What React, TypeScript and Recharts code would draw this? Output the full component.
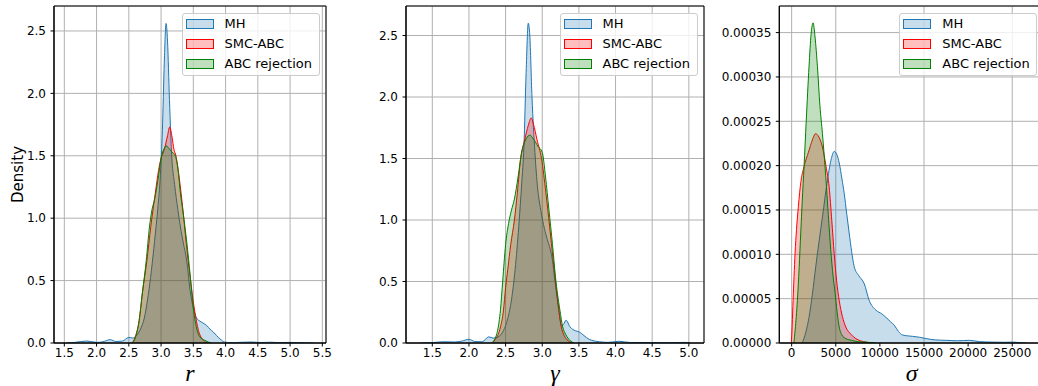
import React from 'react'
import { ComposedChart, Area, XAxis, YAxis, CartesianGrid, ReferenceArea, Legend } from 'recharts'

type Pt = [number, number]

const seriesNames = ['MH', 'SMC-ABC', 'ABC rejection']
const seriesColors = ['#1f77b4', '#ff0000', '#008000']
const seriesFills = ['rgba(31,119,180,0.25)', 'rgba(255,0,0,0.25)', 'rgba(0,128,0,0.25)']

// r panel
const rTicks = [1.5, 2, 2.5, 3, 3.5, 4, 4.5, 5, 5.5]
const rDensityTicks = [0, 0.5, 1, 1.5, 2, 2.5]
const mhR: Pt[] = [
  [1.53, 0], [1.65, 0.004], [1.85, 0.016], [2.0, 0.005], [2.1, 0.01], [2.21, 0.027], [2.3, 0.012],
  [2.4, 0.015], [2.5, 0.045], [2.56, 0.04], [2.62, 0.06], [2.68, 0.11], [2.74, 0.2], [2.8, 0.38],
  [2.85, 0.58], [2.9, 0.82], [2.95, 1.08], [2.99, 1.35], [3.02, 1.7], [3.05, 2.25], [3.077, 2.56],
  [3.1, 2.42], [3.13, 1.95], [3.165, 1.5], [3.21, 1.27], [3.26, 1.07], [3.3, 0.93], [3.346, 0.8],
  [3.4, 0.65], [3.45, 0.42], [3.5, 0.28], [3.55, 0.2], [3.6, 0.176], [3.65, 0.16], [3.708, 0.14],
  [3.76, 0.11], [3.81, 0.088], [3.86, 0.06], [3.914, 0.033], [3.99, 0.007], [4.1, 0.003],
  [4.25, 0.006], [4.4, 0.008], [4.55, 0.004], [4.7, 0.006], [4.85, 0.003], [5.0, 0.005],
  [5.15, 0.002], [5.366, 0],
]
const smcR: Pt[] = [
  [2.55, 0], [2.6, 0.05], [2.66, 0.18], [2.71, 0.4], [2.78, 0.66], [2.84, 0.93], [2.91, 1.2],
  [2.96, 1.38], [3.0, 1.48], [3.05, 1.55], [3.1, 1.66], [3.133, 1.73], [3.17, 1.65], [3.2, 1.55],
  [3.23, 1.5], [3.28, 1.33], [3.34, 1.06], [3.39, 0.8], [3.45, 0.53], [3.52, 0.26], [3.58, 0.1],
  [3.66, 0.02], [3.72, 0],
]
const rejR: Pt[] = [
  [2.55, 0], [2.6, 0.04], [2.66, 0.18], [2.71, 0.4], [2.77, 0.66], [2.82, 0.93], [2.86, 1.07],
  [2.9, 1.15], [2.95, 1.3], [3.0, 1.48], [3.05, 1.56], [3.08, 1.58], [3.12, 1.56], [3.17, 1.53],
  [3.22, 1.5], [3.26, 1.4], [3.3, 1.2], [3.34, 1.05], [3.4, 0.8], [3.45, 0.55], [3.5, 0.28],
  [3.55, 0.12], [3.6, 0.05], [3.68, 0.02], [3.78, 0],
]

// gamma panel
const gTicks = [1.5, 2, 2.5, 3, 3.5, 4, 4.5, 5]
const gDensityTicks = [0, 0.5, 1, 1.5, 2, 2.5]
const mhG: Pt[] = [
  [1.33, 0], [1.5, 0.003], [1.65, 0.01], [1.8, 0.008], [1.9, 0.015], [2.0, 0.03], [2.08, 0.012],
  [2.18, 0.01], [2.27, 0.05], [2.33, 0.04], [2.4, 0.05], [2.47, 0.1], [2.53, 0.2], [2.58, 0.35],
  [2.63, 0.6], [2.68, 0.95], [2.72, 1.3], [2.75, 1.6], [2.78, 2.2], [2.809, 2.6], [2.83, 2.5],
  [2.86, 2.0], [2.9, 1.55], [2.93, 1.3], [2.98, 1.08], [3.03, 0.93], [3.07, 0.84], [3.11, 0.76],
  [3.14, 0.67], [3.17, 0.52], [3.2, 0.38], [3.23, 0.25], [3.264, 0.14], [3.29, 0.15], [3.324, 0.185],
  [3.38, 0.13], [3.45, 0.1], [3.505, 0.09], [3.57, 0.06], [3.64, 0.03], [3.78, 0.01], [3.9, 0.005],
  [4.05, 0.014], [4.2, 0.004], [4.4, 0.004], [4.6, 0.003], [4.8, 0.003], [4.95, 0.005], [5.02, 0],
]
const smcG: Pt[] = [
  [2.32, 0], [2.36, 0.03], [2.4, 0.07], [2.43, 0.13], [2.47, 0.26], [2.5, 0.45], [2.53, 0.6],
  [2.57, 0.8], [2.62, 1.0], [2.66, 1.22], [2.705, 1.5], [2.76, 1.65], [2.81, 1.77], [2.85, 1.83],
  [2.88, 1.78], [2.93, 1.65], [2.99, 1.5], [3.05, 1.22], [3.1, 0.95], [3.15, 0.67], [3.2, 0.4],
  [3.26, 0.13], [3.3, 0.06], [3.35, 0.02], [3.41, 0],
]
const rejG: Pt[] = [
  [2.31, 0], [2.35, 0.03], [2.39, 0.1], [2.43, 0.27], [2.46, 0.5], [2.5, 0.8], [2.54, 0.97],
  [2.58, 1.08], [2.62, 1.17], [2.67, 1.35], [2.72, 1.55], [2.78, 1.66], [2.83, 1.69], [2.88, 1.66],
  [2.94, 1.6], [3.0, 1.55], [3.045, 1.35], [3.09, 1.09], [3.14, 0.8], [3.18, 0.54], [3.24, 0.27],
  [3.28, 0.13], [3.32, 0.07], [3.38, 0.02], [3.43, 0],
]

// sigma panel
const sTicks = [0, 5000, 10000, 15000, 20000, 25000]
const sDensityTicks = [0, 0.00005, 0.0001, 0.00015, 0.0002, 0.00025, 0.0003, 0.00035]
const mhS: Pt[] = [
  [1200, 0], [1600, 0.000012], [1970, 0.000029], [2350, 0.000055], [2730, 0.000086], [3100, 0.000114],
  [3490, 0.000142], [4060, 0.000184], [4500, 0.000208], [4820, 0.000216], [5100, 0.000213],
  [5390, 0.000203], [5700, 0.000185], [5950, 0.000169], [6250, 0.000145], [6520, 0.000124],
  [6800, 0.000103], [7090, 0.000086], [7600, 0.000076], [8220, 0.000067], [8790, 0.000048],
  [9550, 0.000037], [10200, 0.000033], [10680, 0.000029], [11200, 0.000024], [11640, 0.00002],
  [12100, 0.000013], [12580, 0.000009], [13200, 0.000008], [13720, 0.0000075], [14500, 0.0000065],
  [15230, 0.000005], [16300, 0.0000035], [17500, 0.000003], [18800, 0.0000025], [20160, 0.000003],
  [21300, 0.0000015], [22800, 0.000001], [24000, 0.0000008], [25080, 0.000001], [26000, 0.0000003],
  [26590, 0],
]
const smcS: Pt[] = [
  [-34, 0], [60, 0.00002], [160, 0.000048], [270, 0.000075], [385, 0.000101], [550, 0.000128],
  [760, 0.000154], [1050, 0.000182], [1405, 0.000199], [1900, 0.000215], [2350, 0.000229],
  [2700, 0.000236], [3100, 0.000232], [3490, 0.000221], [3900, 0.000199], [4250, 0.000176],
  [4550, 0.000138], [4820, 0.000101], [5100, 0.00007], [5390, 0.000048], [5750, 0.00003],
  [6140, 0.000018], [6700, 0.00001], [7270, 0.000005], [7800, 0.0000025], [8410, 0.000001], [9000, 0],
]
const rejS: Pt[] = [
  [250, 0], [400, 0.000015], [650, 0.000048], [850, 0.000085], [1030, 0.000124], [1200, 0.00016],
  [1405, 0.000199], [1650, 0.00025], [1970, 0.000312], [2200, 0.000348], [2430, 0.000361],
  [2650, 0.000345], [2920, 0.000312], [3200, 0.000268], [3490, 0.000236], [3870, 0.000187],
  [4150, 0.000145], [4430, 0.000105], [4700, 0.000075], [4930, 0.000056], [5150, 0.000035],
  [5390, 0.000018], [5700, 0.000009], [6140, 0.000005], [6800, 0.000003], [7500, 0.0000015],
  [8410, 0.000001], [9500, 0],
]

const tickFont = { fontSize: 12, fill: '#000', fontFamily: 'DejaVu Sans' }

const toRows = (pts: Pt[]) => pts.map(([x, y]) => ({ x, y }))

function LegendBox() {
  return (
    <div
      style={{
        boxSizing: 'border-box',
        width: 138,
        border: '1px solid #cccccc',
        borderRadius: 3,
        background: 'rgba(255,255,255,0.8)',
        padding: '0 0 1px 3px',
        fontFamily: 'DejaVu Sans',
        fontSize: 13,
        lineHeight: '20px',
        color: '#000',
      }}
    >
      {seriesNames.map((name, i) => (
        <div key={name} style={{ display: 'flex', alignItems: 'center', height: 20 }}>
          <span
            style={{
              display: 'inline-block',
              flexShrink: 0,
              width: 26,
              height: 8,
              border: `1px solid ${seriesColors[i]}`,
              background: seriesFills[i],
            }}
          />
          <span style={{ marginLeft: 11, whiteSpace: 'nowrap' }}>{name}</span>
        </div>
      ))}
    </div>
  )
}

interface PanelProps {
  left: number
  width: number
  plotLeft: number
  plotRight: number
  legendLeft: number
  xDomain: [number, number]
  yDomain: [number, number]
  xTicks: number[]
  yTicks: number[]
  xFmt: (v: number) => string
  yFmt: (v: number) => string
  series: Pt[][]
  xLabel: string
  yLabel?: string
}

function DensityPanel(p: PanelProps) {
  const yAxisWidth = p.plotLeft - p.left
  const marginRight = p.left + p.width - p.plotRight
  return (
    <div style={{ position: 'absolute', left: p.left, top: 0 }}>
      <ComposedChart width={p.width} height={386} margin={{ top: 6, right: marginRight, bottom: 0, left: 0 }}>
        <CartesianGrid stroke="#b0b0b0" strokeWidth={1} />
        <XAxis
          type="number"
          dataKey="x"
          domain={p.xDomain}
          ticks={p.xTicks}
          allowDataOverflow
          height={43}
          tickFormatter={p.xFmt}
          tick={tickFont}
          tickSize={3.5}
          tickMargin={2}
          tickLine={{ stroke: '#000' }}
          axisLine={{ stroke: '#000' }}
          label={(props: any) => {
            const vb = props.viewBox
            return (
              <text
                x={vb.x + vb.width / 2}
                y={vb.y + 38}
                textAnchor="middle"
                fontFamily="Liberation Serif"
                fontStyle="italic"
                fontSize={24}
                fill="#000"
              >
                {p.xLabel}
              </text>
            )
          }}
        />
        <YAxis
          type="number"
          domain={p.yDomain}
          ticks={p.yTicks}
          allowDataOverflow
          width={yAxisWidth}
          tickFormatter={p.yFmt}
          tick={tickFont}
          tickSize={3.5}
          tickMargin={4.5}
          tickLine={{ stroke: '#000' }}
          axisLine={{ stroke: '#000' }}
          label={
            p.yLabel
              ? (props: any) => {
                  const vb = props.viewBox
                  const cx = vb.x + 17.5
                  const cy = vb.y + vb.height / 2
                  return (
                    <text
                      x={cx}
                      y={cy}
                      transform={`rotate(-90 ${cx} ${cy})`}
                      textAnchor="middle"
                      dominantBaseline="central"
                      fontFamily="DejaVu Sans"
                      fontSize={15}
                      fill="#000"
                    >
                      {p.yLabel}
                    </text>
                  )
                }
              : undefined
          }
        />
        {p.series.map((pts, i) => (
          <Area
            key={seriesNames[i]}
            name={seriesNames[i]}
            data={toRows(pts)}
            dataKey="y"
            type="monotone"
            stroke={seriesColors[i]}
            strokeWidth={1}
            fill={seriesColors[i]}
            fillOpacity={0.25}
            dot={false}
            activeDot={false}
            isAnimationActive={false}
          />
        ))}
        <ReferenceArea
          x1={p.xDomain[0]}
          x2={p.xDomain[1]}
          y1={p.yDomain[0]}
          y2={p.yDomain[1]}
          fill="none"
          fillOpacity={0}
          stroke="#000"
          strokeWidth={1}
          strokeOpacity={1}
        />
        <Legend
          layout="vertical"
          align="center"
          verticalAlign="middle"
          content={() => <LegendBox />}
          wrapperStyle={{ position: 'absolute', top: 13, left: p.legendLeft - p.left, width: 'auto', height: 'auto' }}
        />
      </ComposedChart>
    </div>
  )
}

export default function App() {
  const fmt1 = (v: number) => v.toFixed(1)
  const fmt5 = (v: number) => v.toFixed(5)
  const fmt0 = (v: number) => String(Math.round(v))
  return (
    <div
      style={{
        position: 'absolute',
        left: 0,
        top: 0,
        width: 1038,
        height: 386,
        overflow: 'hidden',
        background: '#fff',
      }}
    >
      <DensityPanel
        left={0}
        width={346}
        plotLeft={54}
        plotRight={326}
        legendLeft={181.5}
        xDomain={[1.34, 5.557]}
        yDomain={[0, 2.7]}
        xTicks={rTicks}
        yTicks={rDensityTicks}
        xFmt={fmt1}
        yFmt={fmt1}
        series={[mhR, smcR, rejR]}
        xLabel="r"
        yLabel="Density"
      />
      <DensityPanel
        left={350}
        width={360}
        plotLeft={406}
        plotRight={704}
        legendLeft={559.5}
        xDomain={[1.141, 5.207]}
        yDomain={[0, 2.74]}
        xTicks={gTicks}
        yTicks={gDensityTicks}
        xFmt={fmt1}
        yFmt={fmt1}
        series={[mhG, smcG, rejG]}
        xLabel="γ"
      />
      <DensityPanel
        left={714}
        width={340}
        plotLeft={779.3}
        plotRight={1044}
        legendLeft={899.3}
        xDomain={[-1400, 28600]}
        yDomain={[0, 0.00038]}
        xTicks={sTicks}
        yTicks={sDensityTicks}
        xFmt={fmt0}
        yFmt={fmt5}
        series={[mhS, smcS, rejS]}
        xLabel="σ"
      />
    </div>
  )
}
